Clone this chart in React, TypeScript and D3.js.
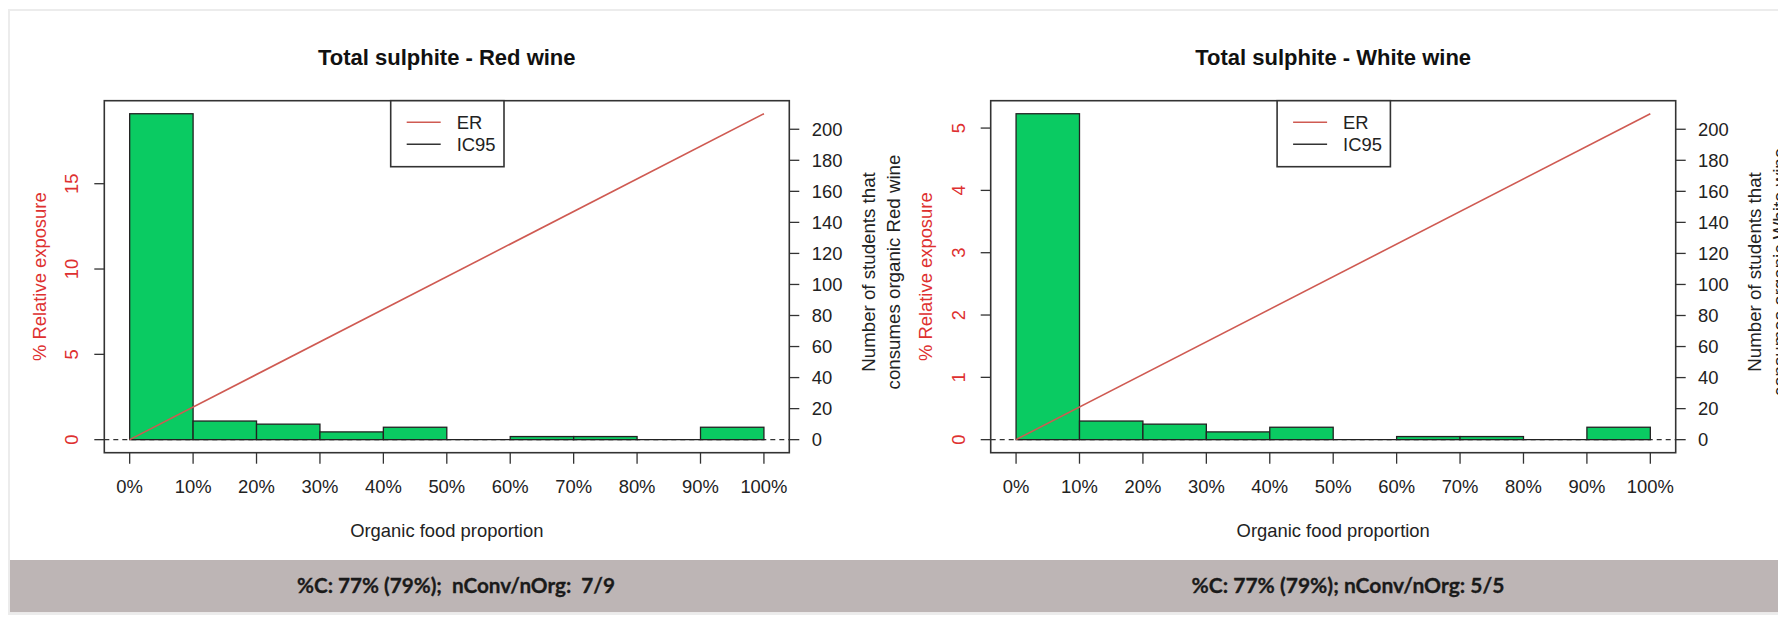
import React from "react";
import * as d3 from "d3";

// ---- data ----
const binStarts = [0, 0.1, 0.2, 0.3, 0.4, 0.5, 0.6, 0.7, 0.8, 0.9];
const studentCountsRed = [210, 12, 10, 5, 8, 0, 2, 2, 0, 8];
const studentCountsWhite = [210, 12, 10, 5, 8, 0, 2, 2, 0, 8];
const xTickValues = [0, 0.1, 0.2, 0.3, 0.4, 0.5, 0.6, 0.7, 0.8, 0.9, 1.0];
const xTickLabels = ["0%", "10%", "20%", "30%", "40%", "50%", "60%", "70%", "80%", "90%", "100%"];
const erProportion = [0, 1];
const erRed = [0, 19.1];
const erWhite = [0, 5.23];
const erTicksRed = [0, 5, 10, 15];
const erTicksWhite = [0, 1, 2, 3, 4, 5];
const countTicks = [0, 20, 40, 60, 80, 100, 120, 140, 160, 180, 200];
const titles = ["Total sulphite - Red wine", "Total sulphite - White wine"];
const wines = ["Red wine", "White wine"];
const summaries = ["%C: 77% (79%);  nConv/nOrg:  7/9", "%C: 77% (79%); nConv/nOrg: 5/5"];
const legendLabels = ["ER", "IC95"];

const W = 1778;
const H = 623;
const FONT = "'Liberation Sans', Arial, Helvetica, sans-serif";
const RED = "#DE3030";
const ERCOL = "#CF5A52";
const GREEN = "#0ACB62";
const AX = "#333333";

type PanelProps = {
  left: number;
  title: string;
  counts: number[];
  er: number[];
  erTicks: number[];
  wine: string;
  summary: string;
  summaryX: number;
  summaryW: number;
};

function Panel({ left, title, counts, er, erTicks, wine, summary, summaryX, summaryW }: PanelProps) {
  const boxL = left;
  const boxR = left + 685;
  const boxT = 100.7;
  const boxB = 452.7;
  const cx = (boxL + boxR) / 2;

  const maxCount = d3.max(counts) as number;
  const pad = maxCount * 0.04;
  const x = d3.scaleLinear().domain([-0.04, 1.04]).range([boxL, boxR]);
  const yCount = d3.scaleLinear().domain([-pad, maxCount + pad]).range([boxB, boxT]);
  const k = (d3.max(er) as number) / maxCount;
  const yEr = d3.scaleLinear().domain([-pad * k, (maxCount + pad) * k]).range([boxB, boxT]);

  const erLine = d3
    .line<number>()
    .x((_, i) => x(erProportion[i]))
    .y((d) => yEr(d));

  const legL = boxL + 286.4;
  const fs = 18.4;

  return (
    <g>
      {/* title */}
      <text x={cx} y={64.5} textAnchor="middle" fontFamily={FONT} fontWeight="bold" fontSize={22} fill="#111">
        {title}
      </text>

      {/* zero dashed line */}
      <line x1={boxL} x2={boxR} y1={yCount(0)} y2={yCount(0)} stroke={AX} strokeWidth={1.3} strokeDasharray="5,4" />

      {/* bars */}
      {counts.map((c, i) => {
        const x0 = x(binStarts[i]);
        const x1 = x(binStarts[i] + 0.1);
        if (c === 0) {
          return <line key={i} x1={x0} x2={x1} y1={yCount(0)} y2={yCount(0)} stroke="#222" strokeWidth={1.3} />;
        }
        return (
          <rect
            key={i}
            x={x0}
            y={yCount(c)}
            width={x1 - x0}
            height={yCount(0) - yCount(c)}
            fill={GREEN}
            stroke="#222"
            strokeWidth={1.3}
          />
        );
      })}

      {/* ER line */}
      <path d={erLine(er) || ""} fill="none" stroke={ERCOL} strokeWidth={1.6} />

      {/* box */}
      <rect x={boxL} y={boxT} width={boxR - boxL} height={boxB - boxT} fill="none" stroke={AX} strokeWidth={1.6} />

      {/* legend */}
      <rect x={legL} y={boxT} width={113.3} height={66} fill="#fff" stroke={AX} strokeWidth={1.6} />
      {legendLabels.map((lab, i) => (
        <g key={lab}>
          <line
            x1={legL + 16}
            x2={legL + 50}
            y1={122.3 + i * 22}
            y2={122.3 + i * 22}
            stroke={i === 0 ? ERCOL : "#333"}
            strokeWidth={1.6}
          />
          <text x={legL + 66} y={122.3 + i * 22} dy="0.36em" fontFamily={FONT} fontSize={fs} fill="#222">
            {lab}
          </text>
        </g>
      ))}

      {/* x axis */}
      {xTickValues.map((v, i) => (
        <g key={i}>
          <line x1={x(v)} x2={x(v)} y1={boxB} y2={boxB + 11} stroke={AX} strokeWidth={1.3} />
          <text x={x(v)} y={493.3} textAnchor="middle" fontFamily={FONT} fontSize={fs} fill="#222">
            {xTickLabels[i]}
          </text>
        </g>
      ))}
      <text x={cx} y={536.7} textAnchor="middle" fontFamily={FONT} fontSize={fs} fill="#222">
        Organic food proportion
      </text>

      {/* left axis (ER) */}
      {erTicks.map((t) => (
        <g key={t}>
          <line x1={boxL - 10} x2={boxL} y1={yEr(t)} y2={yEr(t)} stroke={AX} strokeWidth={1.3} />
          <text
            transform={`translate(${boxL - 26},${yEr(t)}) rotate(-90)`}
            textAnchor="middle"
            fontFamily={FONT}
            fontSize={fs}
            fill={RED}
          >
            {t}
          </text>
        </g>
      ))}
      <text
        transform={`translate(${boxL - 58.8},${(boxT + boxB) / 2}) rotate(-90)`}
        textAnchor="middle"
        fontFamily={FONT}
        fontSize={fs}
        fill={RED}
      >
        % Relative exposure
      </text>

      {/* right axis (counts) */}
      {countTicks.map((t) => (
        <g key={t}>
          <line x1={boxR} x2={boxR + 10} y1={yCount(t)} y2={yCount(t)} stroke={AX} strokeWidth={1.3} />
          <text x={boxR + 22.4} y={yCount(t)} dy="0.36em" fontFamily={FONT} fontSize={fs} fill="#222">
            {t}
          </text>
        </g>
      ))}
      <text
        transform={`translate(${boxR + 85.7},272) rotate(-90)`}
        textAnchor="middle"
        fontFamily={FONT}
        fontSize={18.7}
        fill="#222"
      >
        Number of students that
      </text>
      <text
        transform={`translate(${boxR + 110.7},272) rotate(-90)`}
        textAnchor="middle"
        fontFamily={FONT}
        fontSize={18.7}
        fill="#222"
      >
        {`consumes organic ${wine}`}
      </text>

      {/* summary text in band */}
      <text
        x={summaryX}
        y={593.3}
        textAnchor="middle"
        fontFamily="Lato, 'Open Sans', sans-serif"
        fontWeight="bold"
        fontSize={20}
        fill="#1a1a1a"
        stroke="#1a1a1a"
        strokeWidth={0.3}
        textLength={summaryW}
        lengthAdjust="spacingAndGlyphs"
        style={{ whiteSpace: "pre" }}
      >
        {summary}
      </text>
    </g>
  );
}

export default function App() {
  return (
    <svg
      width={W}
      height={H}
      viewBox={`0 0 ${W} ${H}`}
      style={{ position: "absolute", left: 0, top: 0, background: "#fff" }}
    >
      <rect x={0} y={0} width={W} height={H} fill="#fff" />
      {/* outer panel frame */}
      <rect x={9} y={10} width={W + 10} height={604} fill="none" stroke="#ECECEC" strokeWidth={2} />
      {/* grey band */}
      <rect x={10} y={560} width={W - 10} height={52.3} fill="#BDB5B5" />
      <Panel
        left={104.3}
        title={titles[0]}
        counts={studentCountsRed}
        er={erRed}
        erTicks={erTicksRed}
        wine={wines[0]}
        summary={summaries[0]}
        summaryX={456}
        summaryW={318}
      />
      <Panel
        left={990.7}
        title={titles[1]}
        counts={studentCountsWhite}
        er={erWhite}
        erTicks={erTicksWhite}
        wine={wines[1]}
        summary={summaries[1]}
        summaryX={1348}
        summaryW={313}
      />
    </svg>
  );
}
